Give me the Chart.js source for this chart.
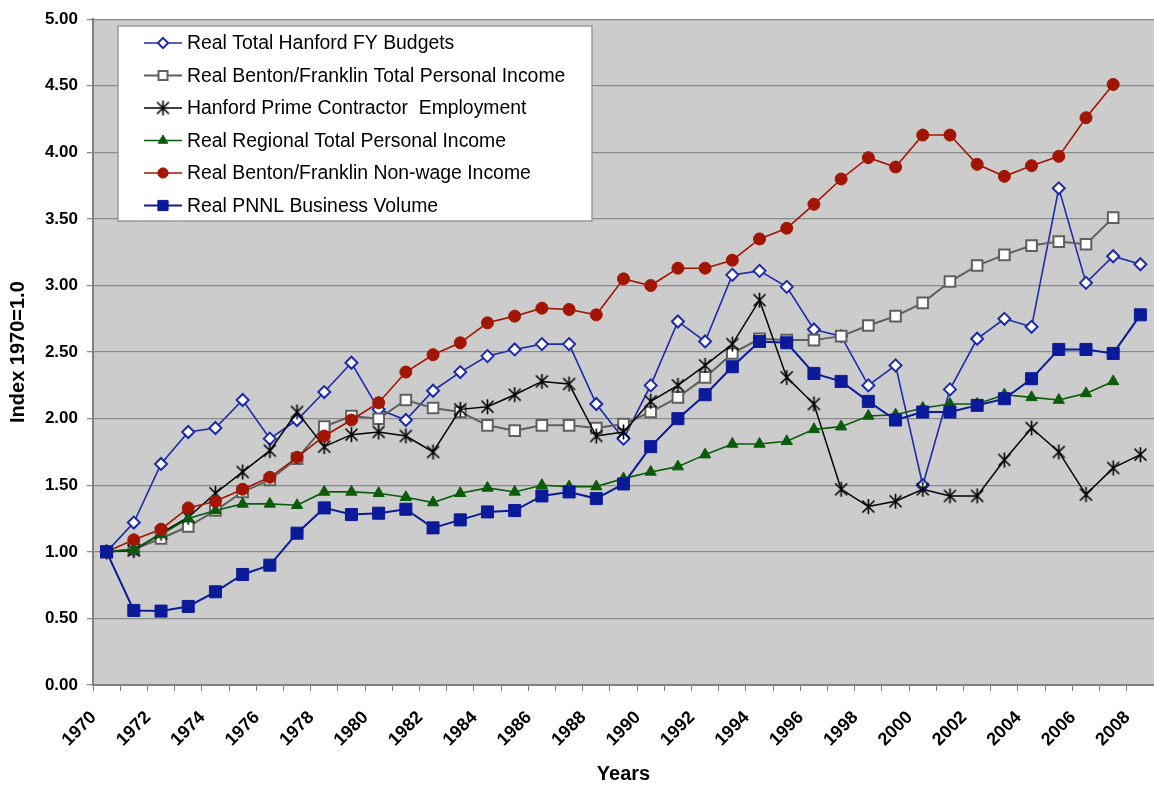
<!DOCTYPE html>
<html>
<head>
<meta charset="utf-8">
<script src="https://cdn.jsdelivr.net/npm/chart.js@4.4.1/dist/chart.umd.min.js"></script>
<style>
  html, body { margin: 0; padding: 0; background: #fff; }
  #wrap { width: 1154px; height: 788px; }
</style>
</head>
<body>
<div id="wrap"><canvas id="chart" width="1154" height="788"></canvas></div>
<script>
const years = [];
for (let y = 1970; y <= 2008; y++) years.push(String(y));

const hanfordBudgets = [1.00, 1.22, 1.66, 1.90, 1.93, 2.14, 1.85, 1.99, 2.20, 2.42, 2.07, 1.99, 2.21, 2.35, 2.47, 2.52, 2.56, 2.56, 2.11, 1.85,
  2.25, 2.73, 2.58, 3.08, 3.11, 2.99, 2.67, 2.62, 2.25, 2.40, 1.50, 2.22, 2.60, 2.75, 2.69, 3.73, 3.02, 3.22, 3.16];
const bfTotalIncome = [1.00, 1.02, 1.10, 1.19, 1.31, 1.45, 1.54, 1.70, 1.94, 2.02, 2.00, 2.14, 2.08, 2.05, 1.95, 1.91, 1.95, 1.95, 1.93, 1.96,
  2.05, 2.16, 2.31, 2.49, 2.60, 2.59, 2.59, 2.62, 2.70, 2.77, 2.87, 3.03, 3.15, 3.23, 3.30, 3.33, 3.31, 3.51, null];
const primeEmployment = [1.00, 1.01, 1.14, 1.26, 1.44, 1.60, 1.76, 2.05, 1.79, 1.88, 1.90, 1.87, 1.75, 2.07, 2.09, 2.18, 2.28, 2.26, 1.87, 1.90,
  2.13, 2.25, 2.40, 2.56, 2.89, 2.31, 2.11, 1.47, 1.34, 1.38, 1.47, 1.42, 1.42, 1.69, 1.93, 1.75, 1.43, 1.63, 1.73];
const regionalIncome = [1.00, 1.02, 1.13, 1.25, 1.31, 1.36, 1.36, 1.35, 1.45, 1.45, 1.44, 1.41, 1.37, 1.44, 1.48, 1.45, 1.50, 1.49, 1.49, 1.55,
  1.60, 1.64, 1.73, 1.81, 1.81, 1.83, 1.92, 1.94, 2.02, 2.03, 2.08, 2.11, 2.11, 2.18, 2.16, 2.14, 2.19, 2.28, null];
const bfNonWage = [1.00, 1.09, 1.17, 1.33, 1.38, 1.47, 1.56, 1.71, 1.87, 1.99, 2.12, 2.35, 2.48, 2.57, 2.72, 2.77, 2.83, 2.82, 2.78, 3.05,
  3.00, 3.13, 3.13, 3.19, 3.35, 3.43, 3.61, 3.80, 3.96, 3.89, 4.13, 4.13, 3.91, 3.82, 3.90, 3.97, 4.26, 4.51, null];
const pnnlVolume = [1.00, 0.56, 0.555, 0.59, 0.70, 0.83, 0.90, 1.14, 1.33, 1.28, 1.29, 1.32, 1.18, 1.24, 1.30, 1.31, 1.42, 1.45, 1.40, 1.51,
  1.79, 2.00, 2.18, 2.39, 2.58, 2.57, 2.34, 2.28, 2.13, 1.99, 2.05, 2.05, 2.10, 2.15, 2.30, 2.52, 2.52, 2.49, 2.78];

const FONT = '"Liberation Sans", Arial, sans-serif';

// Excel style asterisk marker: an x plus a vertical bar
function asterisk(size) {
  const cv = document.createElement('canvas');
  cv.width = size; cv.height = size;
  const c = cv.getContext('2d');
  const m = size / 2, r = size / 2 - 1;
  c.strokeStyle = '#000';
  c.lineWidth = 1.6;
  c.beginPath();
  c.moveTo(m - r * 0.8, m - r * 0.8); c.lineTo(m + r * 0.8, m + r * 0.8);
  c.moveTo(m + r * 0.8, m - r * 0.8); c.lineTo(m - r * 0.8, m + r * 0.8);
  c.moveTo(m, m - r); c.lineTo(m, m + r);
  c.stroke();
  return cv;
}
const starImg = asterisk(17);

function series(label, data, color, style, radius, fill, lw, order) {
  return {
    label: label,
    data: data,
    borderColor: color,
    backgroundColor: color,
    borderWidth: lw,
    pointStyle: style,
    pointRadius: radius,
    pointHoverRadius: radius,
    pointBackgroundColor: fill,
    pointBorderColor: color,
    pointBorderWidth: fill === '#ffffff' ? 2 : 1,
    tension: 0,
    spanGaps: false,
    order: order
  };
}

const datasets = [
  series('Real Total Hanford FY Budgets', hanfordBudgets, '#1c2ca8', 'rectRot', 6, '#ffffff', 1.6, 6),
  series('Real Benton/Franklin Total Personal Income', bfTotalIncome, '#5f5f5f', 'rect', 7.5, '#ffffff', 2, 5),
  series('Hanford Prime Contractor  Employment', primeEmployment, '#000000', starImg, 8, '#000000', 1.5, 4),
  series('Real Regional Total Personal Income', regionalIncome, '#0a5c0a', 'triangle', 6.5, '#0a5c0a', 1.6, 3),
  series('Real Benton/Franklin Non-wage Income', bfNonWage, '#a31503', 'circle', 6, '#a31503', 1.6, 2),
  series('Real PNNL Business Volume', pnnlVolume, '#0b1a99', 'rect', 8.5, '#0b1a99', 2, 1)
];

const plotBg = {
  id: 'plotBg',
  beforeDraw(chart) {
    const a = chart.chartArea, c = chart.ctx;
    c.save();
    c.fillStyle = '#cccccc';
    c.fillRect(a.left, a.top, a.right - a.left, a.bottom - a.top);
    c.restore();
  }
};

// legend box drawn inside the plot, Excel style
const boxLegend = {
  id: 'boxLegend',
  afterDatasetsDraw(chart) {
    const c = chart.ctx;
    const bx = 118, by = 26, bw = 474, bh = 195;
    c.save();
    c.fillStyle = '#ffffff';
    c.fillRect(bx, by, bw, bh);
    c.strokeStyle = '#9a9a9a';
    c.lineWidth = 1.5;
    c.strokeRect(bx, by, bw, bh);
    chart.data.datasets.forEach((ds, i) => {
      const y = 43 + i * 32.5;
      c.strokeStyle = ds.borderColor;
      c.lineWidth = ds.borderWidth;
      c.beginPath();
      c.moveTo(144, y);
      c.lineTo(182, y);
      c.stroke();
      c.fillStyle = ds.pointBackgroundColor;
      c.strokeStyle = ds.pointBorderColor;
      c.lineWidth = ds.pointBorderWidth;
      Chart.helpers.drawPoint(c, {
        pointStyle: ds.pointStyle,
        radius: ds.pointRadius * 0.85,
        rotation: 0,
        borderWidth: ds.pointBorderWidth
      }, 163, y);
      c.fillStyle = '#000000';
      c.font = '19.4px ' + FONT;
      c.textBaseline = 'middle';
      c.textAlign = 'left';
      c.fillText(ds.label, 187, y + 1);
    });
    c.restore();
  }
};

new Chart(document.getElementById('chart'), {
  type: 'line',
  data: { labels: years, datasets: datasets },
  plugins: [plotBg, boxLegend],
  options: {
    responsive: false,
    animation: false,
    layout: { autoPadding: false, padding: { top: 15, right: 0, bottom: 0, left: 0 } },
    plugins: { legend: { display: false }, tooltip: { enabled: false } },
    scales: {
      x: {
        type: 'category',
        offset: true,
        afterFit(scale) { scale.height = 103; scale.paddingRight = 0; },
        grid: { display: true, drawOnChartArea: false, drawTicks: true, tickLength: 6, color: '#808080', offset: true },
        border: { color: '#808080', width: 2 },
        ticks: {
          autoSkip: false,
          maxRotation: 45,
          minRotation: 45,
          padding: 16,
          labelOffset: -13,
          color: '#000000',
          font: { family: FONT, size: 18, weight: 'bold' },
          callback(v, i) { return i % 2 === 0 ? this.getLabelForValue(v) : ''; }
        },
        title: {
          display: true,
          text: 'Years',
          color: '#000000',
          font: { family: FONT, size: 20, weight: 'bold' },
          padding: { top: 0, bottom: 2 }
        }
      },
      y: {
        min: 0,
        max: 5,
        afterFit(scale) { scale.width = 93; },
        grid: { color: '#8a8a8a', lineWidth: 1.3, tickLength: 6, drawTicks: true },
        border: { color: '#808080', width: 2 },
        ticks: {
          stepSize: 0.5,
          padding: 9,
          color: '#000000',
          font: { family: FONT, size: 17, weight: 'bold' },
          callback(v) { return Number(v).toFixed(2); }
        },
        title: {
          display: true,
          text: 'Index 1970=1.0',
          color: '#000000',
          font: { family: FONT, size: 20, weight: 'bold' },
          padding: { top: 6, bottom: 0 }
        }
      }
    }
  }
});
</script>
</body>
</html>
